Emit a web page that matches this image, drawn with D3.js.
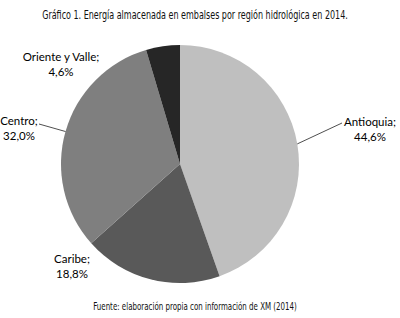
<!DOCTYPE html>
<html>
<head>
<meta charset="utf-8">
<script src="https://cdn.jsdelivr.net/npm/d3@7"></script>
<style>
  body { margin: 0; background: #fff; }
  svg { display: block; }
</style>
</head>
<body>
<div id="chart"></div>
<script>
const regions = ["Antioquia", "Caribe", "Centro", "Oriente y Valle"];
const shares = [44.6, 18.8, 32.0, 4.6];
const sliceColors = ["#bfbfbf", "#595959", "#7f7f7f", "#262626"];

const width = 400, height = 318;
const cx = 180, cy = 164, radius = 119;

// label anchor (centre of text block) and end point of the leader line
const labelPos = [
    {x: 370, y: 126, line: [342, 123]},
    {x: 72, y: 263, line: null},
    {x: 19, y: 125, line: [39, 124]},
    {x: 61, y: 61, line: null}
];

const svg = d3.select("#chart")
    .append("svg")
    .attr("width", width)
    .attr("height", height);

// condensed text: squeeze horizontally to the wanted width
function condensedText(str, x, y, size, targetWidth) {
    const t = svg.append("text")
        .attr("text-anchor", "middle")
        .style("font-family", "'Liberation Sans Narrow', 'DejaVu Sans Condensed', sans-serif")
        .style("font-size", size + "px")
        .attr("fill", "#111")
        .text(str);
    const w = t.node().getComputedTextLength();
    const k = Math.min(1, targetWidth / w);
    t.attr("transform", `translate(${x},${y}) scale(${k},1)`);
    return t;
}

condensedText("Gráfico 1. Energía almacenada en embalses por región hidrológica en 2014.", 195, 19, 12, 306);

const pie = d3.pie().sort(null).value(d => d.value);
const arcs = pie(regions.map((r, i) => ({region: r, value: shares[i], color: sliceColors[i]})));

const arc = d3.arc().innerRadius(0).outerRadius(radius);

const g = svg.append("g")
    .attr("transform", `translate(${cx},${cy})`);

g.selectAll("path")
    .data(arcs)
    .enter().append("path")
    .attr("d", arc)
    .attr("fill", d => d.data.color);

// leader lines, from the slice edge at its middle angle
arcs.forEach((d, i) => {
    const p = labelPos[i];
    if (!p.line) return;
    const mid = (d.startAngle + d.endAngle) / 2;
    const x0 = cx + radius * Math.sin(mid);
    const y0 = cy - radius * Math.cos(mid);
    svg.append("line")
        .attr("x1", x0).attr("y1", y0)
        .attr("x2", p.line[0]).attr("y2", p.line[1])
        .attr("stroke", "#222")
        .attr("stroke-width", 0.8);
});

const fmt = v => d3.format(".1f")(v).replace(".", ",") + "%";

const labels = svg.selectAll(".slice-label")
    .data(arcs)
    .enter().append("text")
    .attr("class", "slice-label")
    .attr("text-anchor", "middle")
    .style("font-family", "Lato, 'Open Sans', sans-serif")
    .style("font-size", "11.5px")
    .attr("fill", "#000");

labels.append("tspan")
    .attr("x", (d, i) => labelPos[i].x)
    .attr("y", (d, i) => labelPos[i].y)
    .text(d => d.data.region + ";");
labels.append("tspan")
    .attr("x", (d, i) => labelPos[i].x)
    .attr("y", (d, i) => labelPos[i].y + 15)
    .text(d => fmt(d.data.value));

condensedText("Fuente: elaboración propia con información de XM (2014)", 195, 310, 11, 204);
</script>
</body>
</html>
